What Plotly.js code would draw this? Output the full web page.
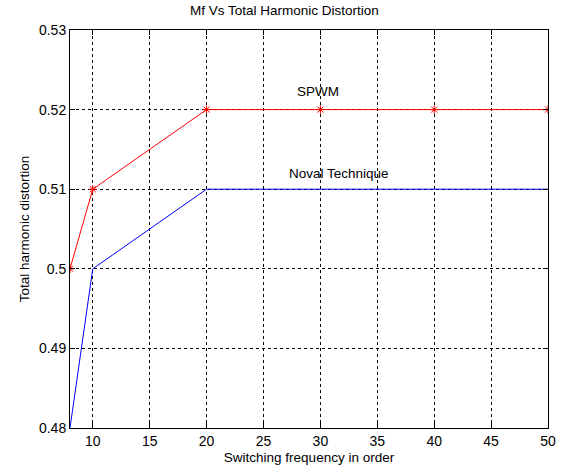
<!DOCTYPE html>
<html><head><meta charset="utf-8">
<script src="https://cdn.plot.ly/plotly-3.0.1.min.js"></script>
<style>html,body{margin:0;padding:0;background:#fff;}#chart{width:563px;height:471px;}</style>
</head><body><div id="chart"></div>
<script>
const mf = [8, 10, 20, 30, 40, 50];
const spwm = [0.50, 0.51, 0.52, 0.52, 0.52, 0.52];
const noval = [0.48, 0.50, 0.51, 0.51, 0.51, 0.51];
const xTicks = [10, 15, 20, 25, 30, 35, 40, 45, 50];
const yTicks = [0.48, 0.49, 0.50, 0.51, 0.52, 0.53];
const yTickText = ['0.48', '0.49', '0.5', '0.51', '0.52', '0.53'];

const font = 'Arial, "Liberation Sans", sans-serif';
const axisCommon = {
  showline: true, linecolor: '#000', linewidth: 1, mirror: 'ticks',
  ticks: 'inside', ticklen: 5, tickcolor: '#000',
  showgrid: true, gridcolor: '#000', griddash: '3px,3px', gridwidth: 1,
  zeroline: false, tickfont: {family: font, size: 14, color: '#000'}
};
const traces = [
  {x: mf, y: spwm, type: 'scatter', mode: 'lines+markers', name: 'SPWM',
   line: {color: '#ff0000', width: 1}, marker: {symbol: 'asterisk-open', size: 7, color: '#ff0000', line: {color: '#ff0000', width: 1}}},
  {x: mf, y: noval, type: 'scatter', mode: 'lines', name: 'Noval Technique',
   line: {color: '#0000ff', width: 1}}
];
const layout = {
  width: 563, height: 471,
  margin: {l: 70, r: 15, t: 30, b: 43},
  paper_bgcolor: '#fff', plot_bgcolor: '#fff',
  showlegend: false,
  title: {text: 'Mf Vs Total Harmonic Distortion', font: {family: font, size: 13.5, color: '#000'}, x: 0.505, xanchor: 'center', y: 0.988, yanchor: 'top'},
  xaxis: Object.assign({}, axisCommon, {range: [8, 50], tickvals: xTicks,
    title: {text: 'Switching frequency in order', font: {family: font, size: 13.5, color: '#000'}, standoff: 4}}),
  yaxis: Object.assign({}, axisCommon, {range: [0.48, 0.53], tickvals: yTicks, ticktext: yTickText,
    title: {text: 'Total harmonic distortion', font: {family: font, size: 13.5, color: '#000'}, standoff: 6}}),
  annotations: [
    {x: 29.8, y: 0.5223, text: 'SPWM', showarrow: false, font: {family: font, size: 13.5, color: '#000'}},
    {x: 31.6, y: 0.5120, text: 'Noval Technique', showarrow: false, font: {family: font, size: 13.5, color: '#000'}}
  ]
};
Plotly.newPlot('chart', traces, layout, {displayModeBar: false, staticPlot: true});
</script></body></html>
